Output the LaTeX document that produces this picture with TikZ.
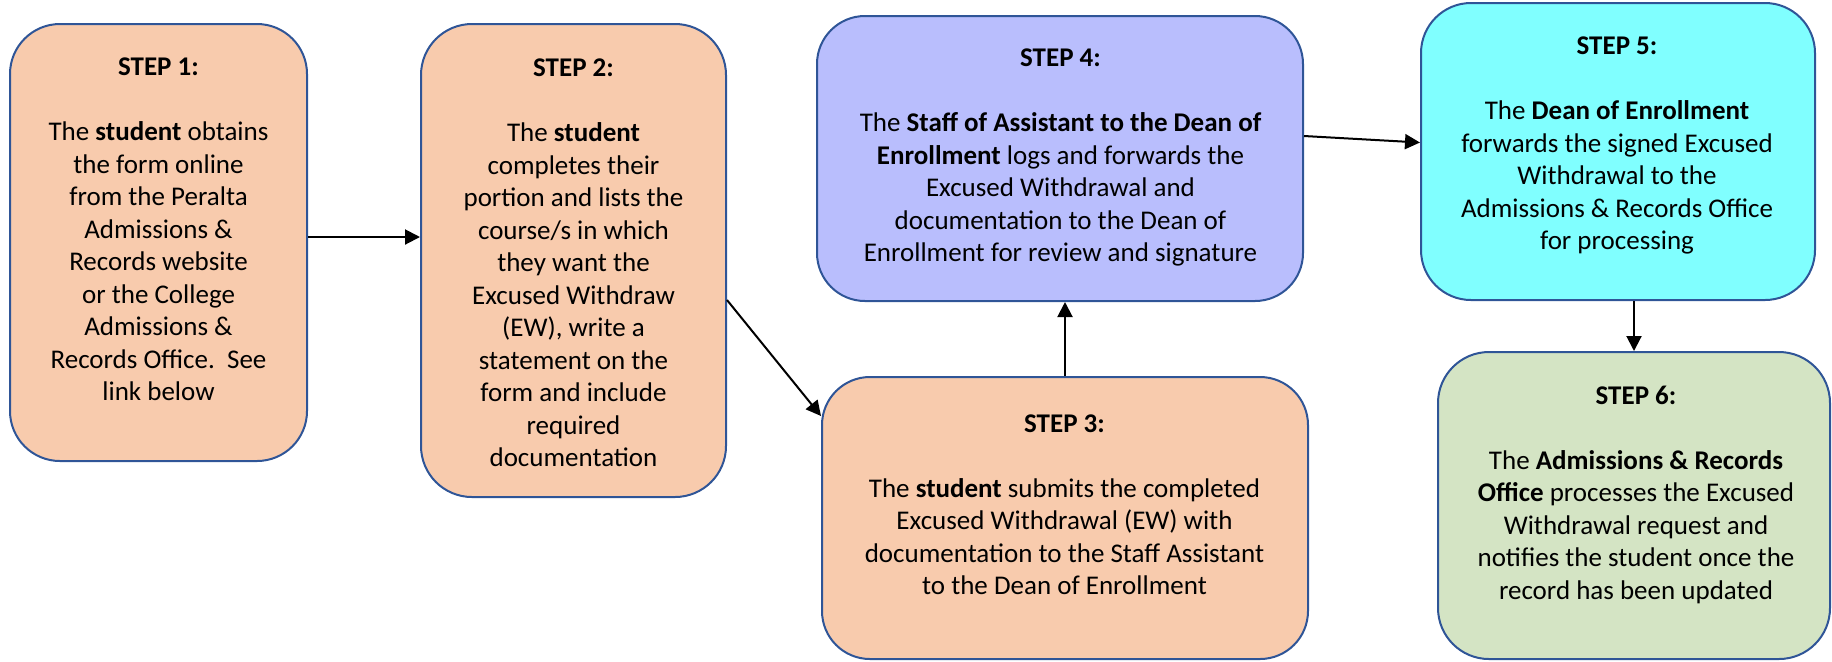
\documentclass[tikz,border=0pt]{standalone}
\usepackage{fontspec}
\setmainfont{Carlito}
\usetikzlibrary{arrows.meta}
\definecolor{peach}{HTML}{F8CBAD}
\definecolor{lav}{HTML}{B9BEFD}
\definecolor{cyanl}{HTML}{80FFFF}
\definecolor{greenl}{HTML}{D4E4C4}
\definecolor{bordercol}{HTML}{2F5597}
\tikzset{
  box/.style={draw=bordercol, line width=1pt, inner sep=0pt, rectangle},
  txta/.style={align=center, inner sep=0pt, font=\fontsize{13.5pt}{16.25pt}\selectfont},
  arr/.style={-{Triangle[length=7.5pt,width=7.5pt]}, line width=1pt, black}
}
\begin{document}
\begin{tikzpicture}[x=0.5pt,y=-0.5pt]
\useasboundingbox (0,0) rectangle (1832,661);
% boxes
\node (s1) [box, fill=peach, rounded corners=25pt, minimum width=148.5pt, minimum height=218.5pt] at (158.5,242.5) {};
\node (s2) [box, fill=peach, rounded corners=25.5pt, minimum width=152.5pt, minimum height=236.5pt] at (573.5,260.5) {};
\node (s3) [box, fill=peach, rounded corners=24pt, minimum width=243pt, minimum height=141pt] at (1065,518) {};
\node (s4) [box, fill=lav, rounded corners=24pt, minimum width=243pt, minimum height=142.5pt] at (1060,158.5) {};
\node (s5) [box, fill=cyanl, rounded corners=25pt, minimum width=197pt, minimum height=148.5pt] at (1618,151.5) {};
\node (s6) [box, fill=greenl, rounded corners=25.5pt, minimum width=196pt, minimum height=153.5pt] at (1634,505.5) {};
% texts
\node (t1) [txta] at (158.5,231.5) {\strut\textbf{STEP 1:}\\[\baselineskip]
The \textbf{student} obtains\\ the form online\\ from the Peralta\\ Admissions \&\\ Records website\\ or the College\\ Admissions \&\\ Records Office.\ \ See\\ link below\strut};
\node (t2) [txta] at (573.5,265) {\strut\textbf{STEP 2:}\\[\baselineskip]
The \textbf{student}\\ completes their\\ portion and lists the\\ course/s in which\\ they want the\\ Excused Withdraw\\ (EW), write a\\ statement on the\\ form and include\\ required\\ documentation\strut};
\node (t3) [txta] at (1064.5,507) {\strut\textbf{STEP 3:}\\[\baselineskip]
The \textbf{student} submits the completed\\ Excused Withdrawal (EW) with\\ documentation to the Staff Assistant\\ to the Dean of Enrollment\strut};
\node (t4) [txta] at (1060.5,157.5) {\strut\textbf{STEP 4:}\\[\baselineskip]
The \textbf{Staff of Assistant to the Dean of}\\ \textbf{Enrollment} logs and forwards the\\ Excused Withdrawal and\\ documentation to the Dean of\\ Enrollment for review and signature\strut};
\node (t5) [txta] at (1617,145.5) {\strut\textbf{STEP 5:}\\[\baselineskip]
The \textbf{Dean of Enrollment}\\ forwards the signed Excused\\ Withdrawal to the\\ Admissions \& Records Office\\ for processing\strut};
\node (t6) [txta] at (1636,495) {\strut\textbf{STEP 6:}\\[\baselineskip]
The \textbf{Admissions \& Records}\\ \textbf{Office} processes the Excused\\ Withdrawal request and\\ notifies the student once the\\ record has been updated\strut};
% connectors
\draw[arr] ([yshift=2.75pt]s1.east) -- ([yshift=2.75pt]s1.east -| s2.west);
\draw[arr] ([yshift=-19.75pt]s2.east) -- ([yshift=51pt]s3.west);
\draw[arr] (s3.north) -- (s3.north |- s4.south);
\draw[arr] ([yshift=11.25pt]s4.east) -- ([yshift=4.5pt]s5.west);
\draw[arr] (s6.north |- s5.south) -- (s6.north);
\end{tikzpicture}
\end{document}
